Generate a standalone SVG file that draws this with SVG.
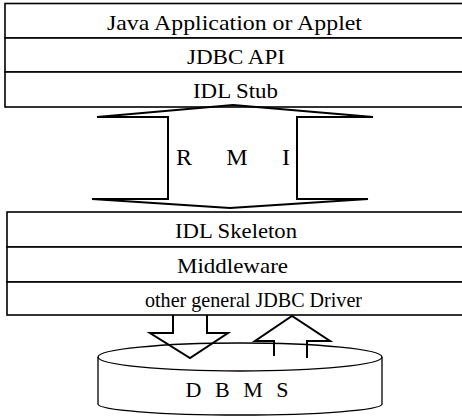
<svg xmlns="http://www.w3.org/2000/svg" width="462" height="417" viewBox="0 0 462 417">
  <style>
    .layer { fill: #fff; stroke: #000; stroke-width: 1.6; }
    .lbl { font-family: 'Liberation Serif', 'DejaVu Serif', serif; font-size: 22px; fill: #000; text-anchor: middle; }
    .big { font-size: 24px; }
    .flow { fill: none; stroke: #000; stroke-width: 2; stroke-linejoin: miter; }
    .db { fill: none; stroke: #000; stroke-width: 1.3; }
  </style>
  <rect width="462" height="417" fill="#fff"/>

  <!-- client-side stack -->
  <g id="layer-app">
    <rect class="layer" x="5" y="3.5" width="470" height="34.5"/>
    <text class="lbl" x="234.5" y="30" textLength="255" lengthAdjust="spacingAndGlyphs">Java Application or Applet</text>
  </g>
  <g id="layer-jdbc-api">
    <rect class="layer" x="5" y="38" width="470" height="34"/>
    <text class="lbl" x="236" y="63.5" textLength="98" lengthAdjust="spacingAndGlyphs">JDBC API</text>
  </g>
  <g id="layer-idl-stub">
    <rect class="layer" x="5" y="72" width="470" height="35"/>
    <text class="lbl" x="235.5" y="97.5" textLength="85" lengthAdjust="spacingAndGlyphs">IDL Stub</text>
  </g>

  <!-- server-side stack -->
  <g id="layer-idl-skeleton">
    <rect class="layer" x="7" y="212" width="470" height="35"/>
    <text class="lbl" x="236" y="237.5" textLength="122" lengthAdjust="spacingAndGlyphs">IDL Skeleton</text>
  </g>
  <g id="layer-middleware">
    <rect class="layer" x="7" y="247" width="470" height="35"/>
    <text class="lbl" x="232.5" y="272.5" textLength="111" lengthAdjust="spacingAndGlyphs">Middleware</text>
  </g>
  <g id="layer-driver">
    <rect class="layer" x="7" y="282" width="470" height="33"/>
    <text class="lbl" x="253.5" y="306.5" textLength="217" lengthAdjust="spacingAndGlyphs">other general JDBC Driver</text>
  </g>

  <!-- database cylinder -->
  <g id="dbms">
    <path class="db" d="M98,357 L98,404 A142,11 0 0 0 382,404 L382,357"/>
    <ellipse class="db" cx="240" cy="357" rx="142" ry="14"/>
    <text class="lbl" x="237" y="397" font-size="23" textLength="103" lengthAdjust="spacing">D B M S</text>
  </g>

  <!-- connectors -->
  <g id="connectors">
    <g id="rmi">
      <path class="flow" d="M233,105 L373,117 L297,117 L297,199 L368,199 L230,208 L92,199 L168,199 L168,117 L97,117 Z"/>
      <text class="lbl big" x="184" y="165">R</text>
      <text class="lbl big" x="237" y="165">M</text>
      <text class="lbl big" x="286" y="165">I</text>
    </g>
    <path id="query-down" class="flow" d="M173,315 L173,333 L150,333 L190,358 L228,333 L207,333 L207,315"/>
    <path id="result-up" class="flow" d="M274,356 L274,341 L255,341 L292,316 L330,341 L307,341 L307,358"/>
  </g>
</svg>
